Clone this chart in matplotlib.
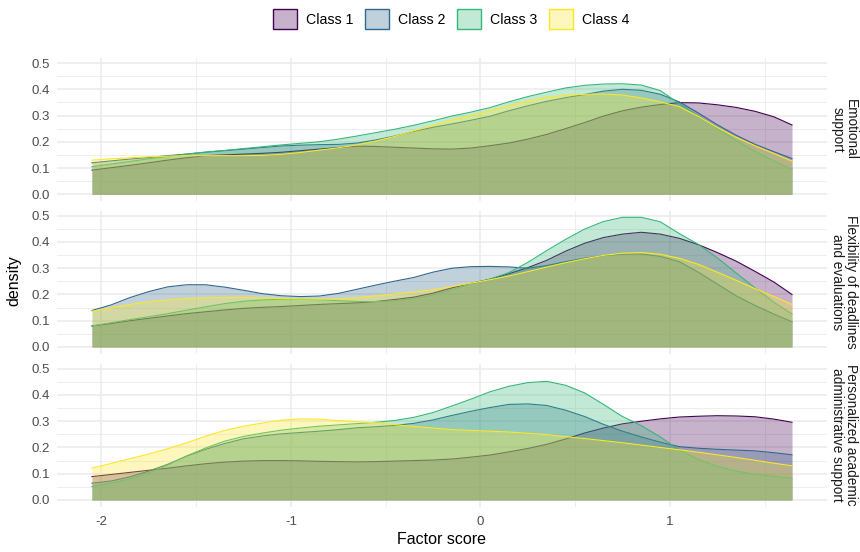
import matplotlib
matplotlib.use("Agg")
import matplotlib.pyplot as plt
from matplotlib.patches import Patch
import numpy as np

plt.rcParams['font.family'] = ['Liberation Sans', 'DejaVu Sans']

classes = ["Class 1", "Class 2", "Class 3", "Class 4"]
colors = ["#440154", "#31688E", "#35B779", "#FDE725"]
facets = ["Emotional\nsupport", "Flexibility of deadlines\nand evaluations",
          "Personalized academic\nadministrative support"]

xs = [-2.05, -1.95, -1.85, -1.75, -1.65, -1.55, -1.45, -1.35, -1.25, -1.15,
      -1.05, -0.95, -0.85, -0.75, -0.65, -0.55, -0.45, -0.35, -0.25, -0.15,
      -0.05, 0.05, 0.15, 0.25, 0.35, 0.45, 0.55, 0.65, 0.75, 0.85,
      0.95, 1.05, 1.15, 1.25, 1.35, 1.45, 1.55, 1.645]

# Emotional support
emo_c1 = [0.092, 0.101, 0.11, 0.12, 0.13, 0.139, 0.147, 0.15, 0.153, 0.156,
          0.16, 0.166, 0.172, 0.178, 0.183, 0.182, 0.179, 0.176, 0.173, 0.172,
          0.176, 0.185, 0.195, 0.21, 0.228, 0.25, 0.273, 0.298, 0.318, 0.332,
          0.342, 0.349, 0.348, 0.341, 0.331, 0.316, 0.295, 0.264]
emo_c2 = [0.12, 0.127, 0.134, 0.14, 0.147, 0.153, 0.16, 0.166, 0.172, 0.178,
          0.184, 0.187, 0.189, 0.19, 0.195, 0.207, 0.222, 0.24, 0.255, 0.268,
          0.282, 0.297, 0.318, 0.337, 0.354, 0.368, 0.38, 0.393, 0.4, 0.396,
          0.381, 0.352, 0.31, 0.265, 0.225, 0.19, 0.162, 0.136]
emo_c3 = [0.105, 0.115, 0.125, 0.135, 0.144, 0.153, 0.161, 0.167, 0.174, 0.181,
          0.188, 0.194, 0.2, 0.21, 0.222, 0.235, 0.248, 0.263, 0.28, 0.298,
          0.313, 0.33, 0.352, 0.372, 0.389, 0.405, 0.415, 0.42, 0.421, 0.416,
          0.395, 0.345, 0.298, 0.251, 0.205, 0.163, 0.127, 0.095]
emo_c4 = [0.13, 0.135, 0.139, 0.143, 0.145, 0.147, 0.147, 0.147, 0.147, 0.148,
          0.152, 0.159, 0.168, 0.177, 0.188, 0.203, 0.221, 0.242, 0.262, 0.283,
          0.3, 0.318, 0.337, 0.355, 0.369, 0.377, 0.381, 0.382, 0.378, 0.367,
          0.352, 0.334, 0.297, 0.255, 0.217, 0.185, 0.155, 0.126]

# Flexibility of deadlines and evaluations
flex_c1 = [0.08, 0.089, 0.1, 0.109, 0.118, 0.127, 0.134, 0.141, 0.147, 0.151,
           0.154, 0.158, 0.162, 0.165, 0.168, 0.173, 0.181, 0.19, 0.205, 0.225,
           0.242, 0.258, 0.279, 0.302, 0.33, 0.365, 0.395, 0.417, 0.43, 0.437,
           0.43, 0.414, 0.39, 0.36, 0.327, 0.288, 0.247, 0.2]
flex_c2 = [0.139, 0.16, 0.188, 0.211, 0.229, 0.237, 0.237, 0.228, 0.216, 0.203,
           0.195, 0.192, 0.194, 0.204, 0.22, 0.236, 0.251, 0.265, 0.285, 0.3,
           0.306, 0.307, 0.305, 0.3, 0.31, 0.325, 0.338, 0.348, 0.353, 0.354,
           0.345, 0.325, 0.285, 0.24, 0.195, 0.158, 0.125, 0.096]
flex_c3 = [0.08, 0.092, 0.104, 0.115, 0.127, 0.14, 0.153, 0.165, 0.174, 0.179,
           0.182, 0.182, 0.18, 0.176, 0.173, 0.173, 0.176, 0.184, 0.198, 0.218,
           0.24, 0.258, 0.283, 0.322, 0.367, 0.41, 0.449, 0.478, 0.494, 0.494,
           0.477, 0.432, 0.391, 0.34, 0.282, 0.225, 0.17, 0.126]
flex_c4 = [0.136, 0.149, 0.162, 0.172, 0.179, 0.184, 0.187, 0.188, 0.189, 0.187,
           0.185, 0.183, 0.182, 0.183, 0.187, 0.195, 0.202, 0.209, 0.218, 0.23,
           0.243, 0.256, 0.27, 0.287, 0.304, 0.321, 0.336, 0.349, 0.357, 0.36,
           0.353, 0.338, 0.315, 0.285, 0.254, 0.222, 0.192, 0.162]

# Personalized academic administrative support
pers_c1 = [0.089, 0.097, 0.105, 0.113, 0.121, 0.13, 0.138, 0.144, 0.148, 0.15,
           0.15, 0.149, 0.147, 0.146, 0.145, 0.146, 0.148, 0.15, 0.152, 0.156,
           0.163, 0.171, 0.183, 0.196, 0.212, 0.232, 0.255, 0.274, 0.29, 0.3,
           0.309, 0.316, 0.319, 0.321, 0.32, 0.317, 0.308, 0.296]
pers_c2 = [0.064, 0.072, 0.088, 0.11, 0.136, 0.167, 0.193, 0.215, 0.233, 0.244,
           0.252, 0.257, 0.262, 0.268, 0.275, 0.279, 0.284, 0.292, 0.305, 0.322,
           0.338, 0.352, 0.364, 0.366, 0.36, 0.342, 0.318, 0.288, 0.262, 0.24,
           0.22, 0.203, 0.197, 0.193, 0.19, 0.187, 0.18, 0.172]
pers_c3 = [0.051, 0.064, 0.08, 0.103, 0.133, 0.168, 0.198, 0.224, 0.242, 0.255,
           0.266, 0.274, 0.281, 0.286, 0.291, 0.296, 0.303, 0.315, 0.333, 0.358,
           0.384, 0.412, 0.433, 0.447, 0.452, 0.437, 0.408, 0.364, 0.318, 0.283,
           0.24, 0.19, 0.155, 0.128, 0.11, 0.098, 0.09, 0.083]
pers_c4 = [0.121, 0.139, 0.157, 0.175, 0.195, 0.218, 0.243, 0.265, 0.281, 0.293,
           0.304, 0.309, 0.308, 0.302, 0.298, 0.294, 0.287, 0.28, 0.274, 0.268,
           0.265, 0.262, 0.259, 0.254, 0.249, 0.241, 0.234, 0.226, 0.218, 0.209,
           0.2, 0.191, 0.182, 0.172, 0.162, 0.151, 0.14, 0.13]

panels = [
    [emo_c1, emo_c2, emo_c3, emo_c4],
    [flex_c1, flex_c2, flex_c3, flex_c4],
    [pers_c1, pers_c2, pers_c3, pers_c4],
]

W, H = 860, 552
fig = plt.figure(figsize=(W / 100, H / 100), dpi=100)

left_px, right_px = 57, 827
tops = [57.8, 210.5, 363.5]
ph = 143.0

grid_col = "#EBEBEB"
tick_col = "#4D4D4D"
x0, x1 = min(xs), max(xs)
xr = x1 - x0
ymax = 0.5
for i, (series, label) in enumerate(zip(panels, facets)):
    top = tops[i]
    ax = fig.add_axes([left_px / W, 1 - (top + ph) / H, (right_px - left_px) / W, ph / H])
    ax.set_xlim(x0 - 0.05 * xr, x1 + 0.05 * xr)
    ax.set_ylim(-0.05 * ymax, ymax * 1.04)
    for gy in np.arange(0, 0.51, 0.1):
        ax.axhline(gy, color=grid_col, lw=1.1, zorder=0)
    for gy in np.arange(0.05, 0.5, 0.1):
        ax.axhline(gy, color=grid_col, lw=0.6, zorder=0)
    for gx in [-2, -1, 0, 1]:
        ax.axvline(gx, color=grid_col, lw=1.1, zorder=0)
    for gx in [-1.5, -0.5, 0.5, 1.5]:
        ax.axvline(gx, color=grid_col, lw=0.6, zorder=0)
    for k, (ys, c) in enumerate(zip(series, colors)):
        ax.fill_between(xs, 0, ys, color=c, alpha=0.3, lw=0, zorder=2 + k)
        ax.plot(xs, ys, color=c, lw=0.8, zorder=2 + k, solid_joinstyle='round')
    for s in ax.spines.values():
        s.set_visible(False)
    ax.set_yticks([0, 0.1, 0.2, 0.3, 0.4, 0.5])
    ax.set_yticklabels(["0.0", "0.1", "0.2", "0.3", "0.4", "0.5"])
    ax.set_xticks([-2, -1, 0, 1])
    ax.tick_params(length=0, colors=tick_col, labelsize=9.5, pad=5)
    if i < 2:
        ax.set_xticklabels([])
    else:
        ax.set_xticklabels(["-2", "-1", "0", "1"])
        ax.tick_params(axis='x', pad=7)
    ax.patch.set_alpha(0)
    fig.text((right_px + 17) / W, 1 - (top + ph / 2) / H, label, rotation=-90,
             ha='center', va='center', fontsize=9.8, color="#1A1A1A",
             linespacing=0.95)

fig.text(442 / W, 1 - 539 / H, "Factor score", ha='center', va='center',
         fontsize=11.5, color="#000000")
fig.text(14 / W, 1 - 281 / H, "density", ha='center', va='center',
         rotation=90, fontsize=11.5, color="#000000")

handles = [Patch(facecolor=matplotlib.colors.to_rgba(c, 0.3), edgecolor=c, lw=1.0)
           for c in colors]
fig.legend(handles, classes, loc='center', bbox_to_anchor=(451 / W, 1 - 19 / H),
           ncol=4, frameon=False, fontsize=10.2, handlelength=1.7, handleheight=1.7,
           handletextpad=0.6, columnspacing=0.85)

fig.savefig("out.png", dpi=100)
